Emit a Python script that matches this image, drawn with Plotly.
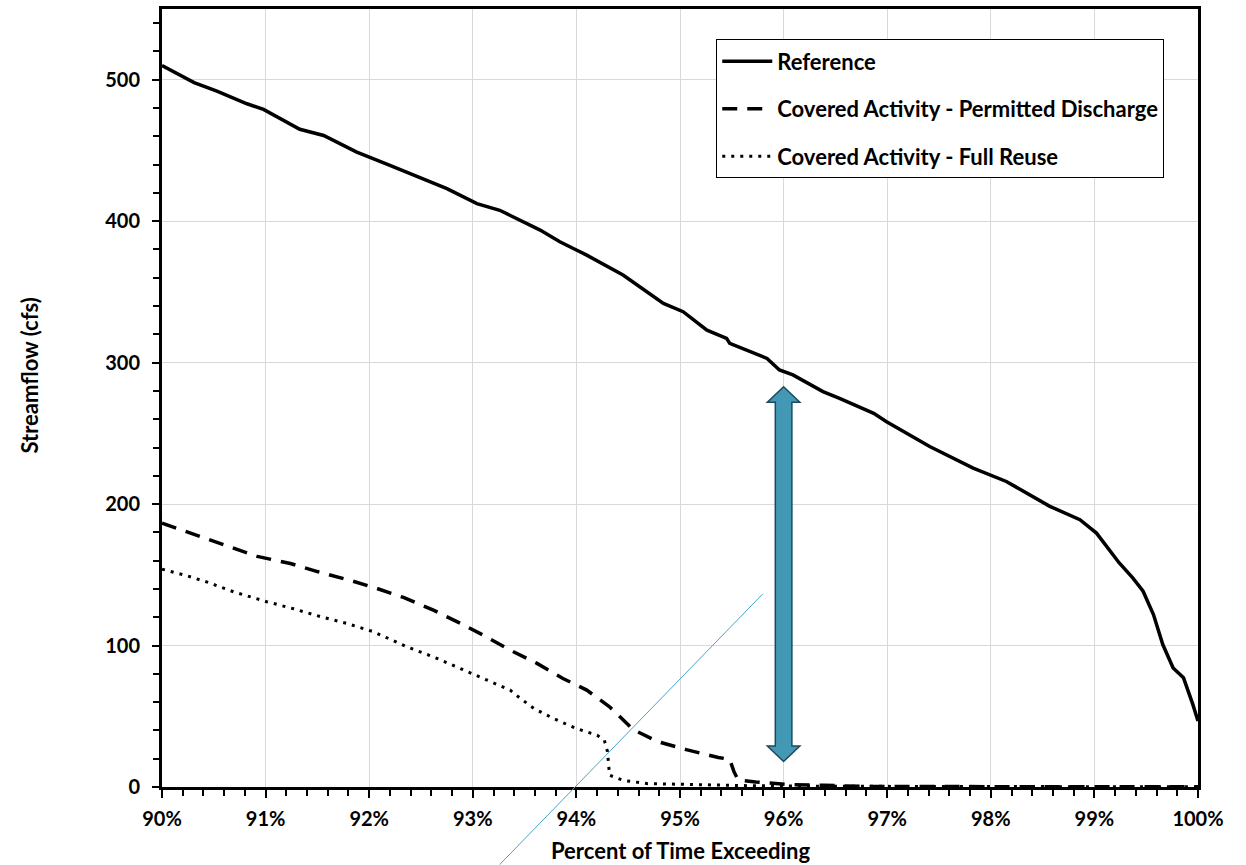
import plotly.graph_objects as go

# ---------------- data ----------------
ref_x = [90.00, 90.31, 90.53, 90.82, 90.98, 91.33, 91.56, 91.88, 92.20, 92.36, 92.75,
         93.04, 93.26, 93.65, 93.84, 94.00, 94.10, 94.45, 94.68, 94.84, 95.03, 95.26,
         95.45, 95.48, 95.84, 95.96, 96.09, 96.38, 96.54, 96.87, 96.99, 97.41, 97.83,
         98.15, 98.57, 98.86, 99.02, 99.24, 99.37, 99.47, 99.57, 99.66, 99.76, 99.86,
         99.95, 100.00]
ref_y = [510, 498, 492, 483, 479, 465, 460.6, 448.8, 439.4, 434.7, 423,
         412.4, 407.7, 393.7, 385.4, 379.6, 376, 361.9, 350, 341.9, 336, 323,
         317.2, 313.6, 303, 294.8, 291.3, 279.5, 274.8, 264.2, 258.4, 240.7, 225.4,
         216, 198.4, 189, 179.5, 158.4, 147.8, 138.4, 121.9, 100.7, 84.2, 77.2,
         58.4, 46.6]

perm_x = [90.00, 90.37, 90.63, 90.92, 91.24, 91.50, 91.82, 92.07, 92.33, 92.62, 92.88,
          93.10, 93.36, 93.62, 93.87, 94.10, 94.32, 94.55, 94.78, 95.06, 95.37, 95.48,
          95.52, 95.56, 95.73, 96.08, 96.39, 96.78, 97.50, 98.50, 99.50, 100.00]
perm_y = [186.5, 177, 170, 163, 158, 152.3, 146, 140.5, 134, 125, 115.7,
          107.4, 96.8, 87.4, 76.7, 68.5, 56.7, 40.5, 32.2, 26.4, 20.9, 19.5,
          11, 5, 3.5, 1.6, 1.2, 0.4, 0.3, 0.2, 0.2, 0.1]

reuse_x = [90.00, 90.21, 90.43, 90.69, 91.01, 91.27, 91.53, 91.78, 92.04, 92.36, 92.62,
           92.91, 93.14, 93.36, 93.46, 93.59, 93.78, 94.00, 94.20, 94.27, 94.30, 94.31,
           94.32, 94.45, 94.68, 95.22, 95.69, 96.50, 97.50, 98.50, 99.50, 100.00]
reuse_y = [154, 150, 145, 138, 131, 126, 120.4, 115.7, 109.8, 99.2, 92,
           82.6, 75.6, 68.5, 62.6, 55.5, 48.4, 41.3, 36.6, 33, 25, 15,
           8.3, 4.7, 2.4, 1.6, 0.9, 0.5, 0.3, 0.2, 0.2, 0.1]

series_names = ["Reference",
                "Covered Activity - Permitted Discharge",
                "Covered Activity - Full Reuse"]

x_range = [90, 100]
y_range = [0, 550]

# annotation geometry (data units)
arrow_x = 96.0
arrow_top = 283
arrow_bottom = 18
arrow_head_len = 11
arrow_shaft_half = 0.08
arrow_head_half = 0.157

diag_start = (93.26, -54.8)
diag_end = (95.80, 136.6)

FONT = "Lato, 'Open Sans', sans-serif"

fig = go.Figure()
fig.add_trace(go.Scatter(x=ref_x, y=ref_y, mode="lines", name=series_names[0],
                         legendgroup="a",
                         line=dict(color="black", width=3.5)))
fig.add_trace(go.Scatter(x=perm_x, y=perm_y, mode="lines", name=series_names[1],
                         legendgroup="b",
                         line=dict(color="black", width=3.5, dash="15px,10px")))
fig.add_trace(go.Scatter(x=reuse_x, y=reuse_y, mode="lines", name=series_names[2],
                         legendgroup="c",
                         line=dict(color="black", width=3, dash="3px,6px")))

# double-headed arrow
cx, t, b = arrow_x, arrow_top, arrow_bottom
hl, sw, hw = arrow_head_len, arrow_shaft_half, arrow_head_half
pts = [(cx, t), (cx + hw, t - hl), (cx + sw, t - hl), (cx + sw, b + hl),
       (cx + hw, b + hl), (cx, b), (cx - hw, b + hl), (cx - sw, b + hl),
       (cx - sw, t - hl), (cx - hw, t - hl)]
path = "M " + " L ".join(f"{px},{py}" for px, py in pts) + " Z"
fig.add_shape(type="path", path=path, xref="x", yref="y",
              fillcolor="#4398B6", line=dict(color="#1C4A5C", width=1.5), layer="above")


def to_paper(x, y):
    return ((x - x_range[0]) / (x_range[1] - x_range[0]),
            (y - y_range[0]) / (y_range[1] - y_range[0]))


p0 = to_paper(*diag_start)
p1 = to_paper(*diag_end)
fig.add_shape(type="line", xref="paper", yref="paper",
              x0=p0[0], y0=p0[1], x1=p1[0], y1=p1[1],
              line=dict(color="#4AA3C4", width=1), layer="above")

axis_common = dict(
    showline=True, linecolor="black", linewidth=3, mirror=True,
    showgrid=True, gridcolor="#D9D9D9", gridwidth=1,
    ticks="outside", tickcolor="black", tickwidth=2,
    zeroline=False,
    tickfont=dict(family=FONT, size=20, color="black", weight="bold"),
)

fig.update_xaxes(range=x_range, dtick=1, tick0=90, ticksuffix="%", ticklen=8,
                 ticklabelstandoff=4,
                 minor=dict(dtick=0.2, ticks="outside", ticklen=6, tickwidth=2,
                            tickcolor="black", showgrid=False),
                 **axis_common)
fig.update_yaxes(range=y_range, dtick=100, tick0=0, ticklen=7,
                 ticklabelstandoff=8,
                 minor=dict(dtick=20, ticks="outside", ticklen=6, tickwidth=2,
                            tickcolor="black", showgrid=False),
                 **axis_common)

fig.add_annotation(text="Percent of Time Exceeding", xref="paper", yref="paper",
                   x=0.5, y=-0.082, showarrow=False, xanchor="center", yanchor="middle",
                   font=dict(family=FONT, size=22, color="black", weight="bold"))
fig.add_annotation(text="Streamflow (cfs)", xref="paper", yref="paper",
                   x=-0.1274, y=0.5288, showarrow=False, textangle=-90,
                   xanchor="center", yanchor="middle",
                   font=dict(family=FONT, size=22, color="black", weight="bold"))

fig.update_layout(
    width=1246, height=865,
    margin=dict(l=162, r=48, t=6, b=78),
    plot_bgcolor="white", paper_bgcolor="white",
    showlegend=True,
    legend=dict(x=0.535, y=0.961, xanchor="left", yanchor="top",
                bordercolor="black", borderwidth=1, bgcolor="white",
                traceorder="grouped", tracegroupgap=16, itemwidth=50,
                font=dict(family=FONT, size=22, color="black", weight="bold")),
)

fig.write_html("out.html", config={"displayModeBar": False},
               post_script="document.body.style.margin='0';")
